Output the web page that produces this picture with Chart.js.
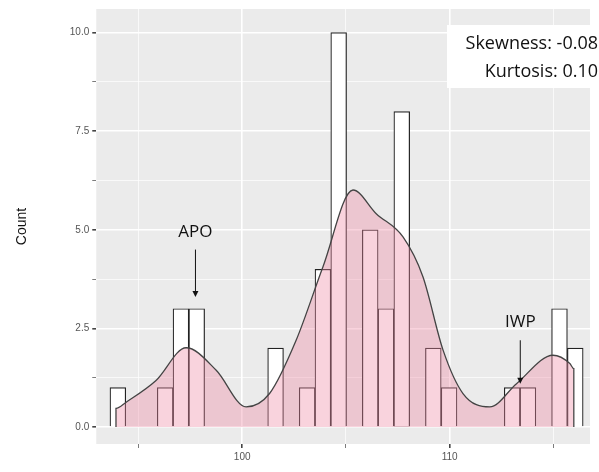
<!DOCTYPE html>
<html>
<head>
<script src="https://cdn.jsdelivr.net/npm/chart.js@4"></script>
<style>
  body { margin: 0; background: #fff; }
  #wrap { width: 599px; height: 472px; }
</style>
</head>
<body>
<div id="wrap"><canvas id="myChart"></canvas></div>
<script>
// histogram bins (start + width) and counts
var binStart = 93.63;
var binWidth = 0.76;
var counts = [1, 0, 0, 1, 3, 3, 0, 0, 0, 0, 2, 0, 1, 4, 10, 0, 5, 3, 8, 0, 2, 1, 0, 0, 0, 1, 1, 0, 3, 2];

// density curve (scaled to counts)
var densX = [93.92, 93.92, 94.41, 95.85, 97.30, 98.75, 100.19, 101.32, 102.60, 103.89, 105.34, 106.46, 107.75, 108.71, 109.68, 110.64, 111.93, 113.22, 114.98, 115.79, 115.98, 115.98];
var densY = [0, 0.47, 0.63, 1.18, 2.01, 1.44, 0.51, 0.85, 2.20, 4.06, 6.01, 5.41, 4.82, 3.81, 1.95, 0.85, 0.51, 1.10, 1.82, 1.61, 1.48, 0];

var xTicks = [95, 100, 105, 110, 115];
var xLabels = [100, 110];
var yTicks = [0, 1.25, 2.5, 3.75, 5, 6.25, 7.5, 8.75, 10];
var yLabels = [0, 2.5, 5, 7.5, 10];

var annots = [
  { text: 'APO', x: 97.75, textY: 4.95, y0: 4.5, y1: 3.3 },
  { text: 'IWP', x: 113.4, textY: 2.65, y0: 2.2, y1: 1.1 }
];

var bars = counts.map(function (c, i) {
  return { x: binStart + binWidth * (i + 0.5), y: c };
});
var dens = densX.map(function (x, i) { return { x: x, y: densY[i] }; });

var bgPlugin = {
  id: 'bg',
  beforeDraw: function (chart) {
    var a = chart.chartArea, ctx = chart.ctx;
    ctx.save();
    ctx.fillStyle = '#ebebeb';
    ctx.fillRect(a.left, a.top, a.right - a.left, a.bottom - a.top);
    ctx.restore();
  },
  afterDraw: function (chart) {
    var ctx = chart.ctx, xs = chart.scales.x, ys = chart.scales.y;
    ctx.save();
    ctx.fillStyle = '#111';
    ctx.strokeStyle = '#111';
    ctx.font = '17px "Open Sans"';
    ctx.textAlign = 'center';
    ctx.textBaseline = 'middle';
    annots.forEach(function (n) {
      var px = xs.getPixelForValue(n.x);
      ctx.fillText(n.text, px, ys.getPixelForValue(n.textY));
      var a = ys.getPixelForValue(n.y0), b = ys.getPixelForValue(n.y1);
      ctx.lineWidth = 1;
      ctx.beginPath(); ctx.moveTo(px, a); ctx.lineTo(px, b - 4); ctx.stroke();
      ctx.beginPath(); ctx.moveTo(px - 3, b - 6); ctx.lineTo(px + 3, b - 6); ctx.lineTo(px, b); ctx.closePath(); ctx.fill();
    });
    // stats box
    ctx.fillStyle = '#fff';
    ctx.fillRect(447, 25, 152, 63);
    ctx.fillStyle = '#111';
    ctx.textAlign = 'right';
    ctx.font = '18px "Open Sans"';
    ctx.fillText('Skewness: -0.08', 598, 44);
    ctx.fillText('Kurtosis: 0.10', 598, 72);
    ctx.restore();
  }
};

var myChart = new Chart(document.getElementById('myChart'), {
  data: {
    datasets: [
      {
        type: 'line',
        data: dens,
        borderColor: '#444',
        borderWidth: 1.3,
        backgroundColor: 'rgba(240,140,165,0.38)',
        fill: 'origin',
        tension: 0.4,
        cubicInterpolationMode: 'monotone',
        pointRadius: 0
      },
      {
        type: 'bar',
        data: bars,
        backgroundColor: '#ffffff',
        borderColor: '#222',
        borderWidth: 1.2,
        barPercentage: 1,
        categoryPercentage: 1
      }
    ]
  },
  options: {
    responsive: true,
    maintainAspectRatio: false,
    animation: false,
    layout: { padding: { left: 10, right: 9, top: 5, bottom: 6 } },
    plugins: { legend: { display: false }, tooltip: { enabled: false } },
    scales: {
      x: {
        type: 'linear',
        offset: false,
        min: 92.97, max: 116.76,
        afterBuildTicks: function (s) { s.ticks = xTicks.map(function (v) { return { value: v }; }); },
        ticks: {
          color: '#555', font: { size: 10 },
          callback: function (v) { return xLabels.indexOf(v) >= 0 ? v : ''; }
        },
        grid: {
          offset: false,
          color: '#fff',
          lineWidth: function (c) { return c.tick && xLabels.indexOf(c.tick.value) >= 0 ? 1.6 : 0.7; },
          tickColor: '#444', tickLength: 4, drawTicks: true
        },
        border: { display: false }
      },
      y: {
        min: -0.43, max: 10.6,
        afterBuildTicks: function (s) { s.ticks = yTicks.map(function (v) { return { value: v }; }); },
        ticks: {
          color: '#555', font: { size: 10 },
          callback: function (v) { return yLabels.indexOf(v) >= 0 ? v.toFixed(1) : ''; }
        },
        grid: {
          color: '#fff',
          lineWidth: function (c) { return c.tick && yLabels.indexOf(c.tick.value) >= 0 ? 1.6 : 0.7; },
          tickColor: '#444', tickLength: 4
        },
        border: { display: false },
        title: { display: true, text: 'Count', color: '#111', font: { size: 14, family: 'Liberation Sans' }, padding: { bottom: 36 } }
      }
    }
  },
  plugins: [bgPlugin]
});

// make bars fill the whole bin width
var xs = myChart.scales.x;
myChart.data.datasets[1].barThickness = xs.getPixelForValue(binStart + binWidth) - xs.getPixelForValue(binStart);
myChart.update();
</script>
</body>
</html>
